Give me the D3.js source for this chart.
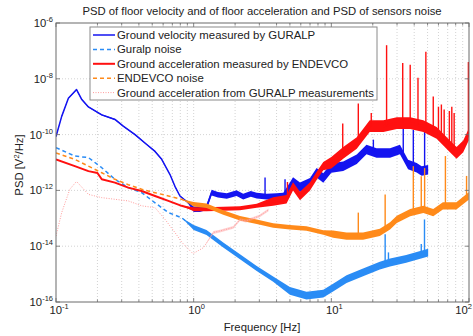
<!DOCTYPE html>
<html><head><meta charset="utf-8">
<script src="https://cdn.jsdelivr.net/npm/d3@7"></script>
<style>
body{margin:0;background:#fff}
svg{display:block}
text{font-family:"Liberation Sans",Arial,Helvetica,sans-serif;fill:#222}
</style>
</head><body>
<svg id="c" width="473" height="336"></svg>
<script>
// ---------- data ----------
const title = "PSD of floor velocity and of floor acceleration and PSD of sensors noise";
const xLabel = "Frequency [Hz]";
const xTickExp = [-1, 0, 1, 2];
const yTickExp = [-16, -14, -12, -10, -8, -6];
const legendLabels = [
  "Ground velocity measured by GURALP",
  "Guralp noise",
  "Ground acceleration measured by ENDEVCO",
  "ENDEVCO noise",
  "Ground acceleration from GURALP measurements"
];

// Ground velocity measured by GURALP
const velF = [0.1,0.11,0.123,0.141,0.154,0.172,0.215,0.268,0.308,0.375,0.456,0.524,0.586,0.673,0.731,0.795,0.914,1.0,1.11,1.24,1.35,1.5,1.74,2.05,2.29,2.6,2.87,3.39,4.0,4.48,5.0,5.27,5.92,7.0,7.82,8.74,10.0,12.2,15.3,18.0,21.3,26.7,31.5,36.1,41.7,45.3,50.5];
const velV = [8.5e-11,4.5e-10,2.0e-9,4.1e-9,1.8e-9,9.8e-10,5.1e-10,3.5e-10,2.0e-10,1.0e-10,4.4e-11,2.5e-11,1.3e-11,3.7e-12,1.4e-12,6.3e-13,3.6e-13,2.1e-13,2.1e-13,2.5e-13,8.3e-13,7e-13,6.3e-13,8e-13,6e-13,7.5e-13,6.5e-13,6e-13,6.3e-13,6.5e-13,1.3e-12,2e-12,1.3e-12,1.9e-12,4.3e-12,2.8e-12,6.3e-12,7.4e-12,1.3e-11,2.9e-11,2.2e-11,2.2e-11,2.9e-11,8.5e-12,6.5e-12,5e-12,5.5e-12];
const velBandF = [0.1, 0.95, 5];
const velBandW = [0.02, 0.1, 0.17];
const velSpF = [3.3, 4.61, 20.2, 33.3, 39.4, 47.6];
const velSpV = [2.9e-12, 2.5e-12, 6.6e-11, 2.6e-10, 1.5e-10, 2.6e-10];

// Guralp noise
const gnF = [0.1,0.137,0.172,0.215,0.268,0.335,0.419,0.524,0.655,0.818,1.0,1.24,1.64,2.17,2.87,3.78,5.0,6.6,8.74,10.3,12.9,17.0,22.5,26.7,35,41.7,50.5];
const gnV = [3.4e-11,1.7e-11,1.5e-11,6.5e-12,2.5e-12,1.26e-12,8.3e-13,3.6e-13,1.6e-13,1.05e-13,4.7e-14,3.1e-14,1.1e-14,4.2e-15,1.6e-15,6.6e-16,2.5e-16,1.7e-16,2.0e-16,3.3e-16,6.6e-16,1.15e-15,2.0e-15,2.6e-15,3.5e-15,4.5e-15,5.9e-15];
const gnBandF = [0.1, 1, 4];
const gnBandW = [0.0, 0.09, 0.14];
const gnSpF = [24.6, 26, 45, 47.5];
const gnSpV = [2.7e-14, 6e-15, 1.2e-14, 9.1e-14];

// Ground acceleration measured by ENDEVCO
const accF = [0.1,0.137,0.172,0.2,0.215,0.268,0.335,0.419,0.524,0.655,0.818,1.0,1.24,1.64,2.17,2.87,3.78,4.73,5.27,5.92,7.0,7.82,8.74,10,12.2,15.3,19.0,23.9,29.9,37.4,46.6,58.2,72.7,81.2,90.8,99.5];
const accV = [1.3e-11,7.4e-12,4.9e-12,4.2e-12,2.5e-12,1.9e-12,1.26e-12,9.5e-13,6.3e-13,4.2e-13,2.8e-13,2.1e-13,2.1e-13,2.2e-13,2.3e-13,2.8e-13,4.0e-13,4.8e-13,1.4e-12,6.3e-13,1.4e-12,3.3e-12,7.4e-12,9.8e-12,2.2e-11,5e-11,2e-10,2e-10,2.6e-10,2.6e-10,2e-10,1.15e-10,3.8e-11,2.2e-11,3.8e-11,1.0e-10];
const accBandF = [0.1, 0.9, 3, 9];
const accBandW = [0.0, 0.07, 0.15, 0.21];
const accSpF = [4.8,12.1,15.7,19.5,25.2,33.0,37.4,42.6,48.6,55,60,63,66,72,75,78,99];
const accSpV = [2e-12,2.5e-10,1.3e-9,5.9e-10,1.6e-7,3.7e-8,3.2e-8,1.1e-8,9.3e-8,2.3e-9,1.0e-9,1.2e-9,8e-10,7e-10,1.0e-9,6e-10,4e-8];

// ENDEVCO noise
const endF = [0.1,0.137,0.172,0.215,0.268,0.335,0.419,0.524,0.655,0.818,1.0,1.24,1.64,2.17,2.87,3.78,5.0,6.6,8.74,10.3,12.9,17.0,22.5,26.7,29.9,37.4,46.6,55,64.6,81,99.5];
const endV = [2.2e-11,1.3e-11,7.4e-12,4.3e-12,2.5e-12,1.6e-12,1.1e-12,8.3e-13,6.3e-13,4.8e-13,3.2e-13,2.8e-13,1.6e-13,1.0e-13,7.5e-14,5.5e-14,4.8e-14,4.3e-14,3.1e-14,2.7e-14,2.3e-14,2.3e-14,3.1e-14,5.4e-14,9.1e-14,1.6e-13,2.1e-13,1.6e-13,2.8e-13,2.8e-13,6.3e-13];
const endBandF = [0.1, 1, 10];
const endBandW = [0.0, 0.08, 0.13];
const endSpF = [15.7, 24.6, 39.4, 45, 47.6, 67.4, 96];
const endSpV = [1.6e-13, 7.2e-13, 7.4e-12, 3.2e-12, 6.3e-12, 1.7e-11, 3.3e-12];

// Ground acceleration from GURALP measurements
const gaF = [0.1,0.11,0.126,0.141,0.172,0.215,0.268,0.335,0.419,0.524,0.62,0.731,0.818,0.97,1.0,1.18,1.39,1.55,1.94,2.17,2.4,3.0,3.5];
const gaV = [2.3e-14,1.6e-13,1.1e-12,2.1e-12,7.2e-13,5.5e-13,4.8e-13,4.2e-13,2.8e-13,2.4e-13,9.1e-14,3.1e-14,1.4e-14,5.9e-15,5.6e-15,8.9e-15,3.1e-14,3.5e-14,4.7e-14,9e-14,8e-14,1.2e-13,2e-13];
const gaBandF = [0.1, 1.3];
const gaBandW = [0.0, 0.05];

// ---------- chart ----------
const svg = d3.select("#c");
const L = 56, R = 469, T = 23, B = 302;
const xs = d3.scaleLog().domain([0.1, 100]).range([L, R]);
const ys = d3.scaleLog().domain([1e-16, 1e-6]).range([B, T]);

svg.append("defs").append("clipPath").attr("id", "clip")
  .append("rect").attr("x", L).attr("y", T).attr("width", R - L).attr("height", B - T);

// grid
const gGrid = svg.append("g");
const xTicks = xs.ticks();
gGrid.selectAll("line.vx").data(xTicks.filter(d => d > 0.1 && d < 100)).enter().append("line")
  .attr("x1", d => xs(d)).attr("x2", d => xs(d)).attr("y1", T).attr("y2", B)
  .attr("stroke", "#c8c8c8").attr("stroke-width", 0.8).attr("stroke-dasharray", "1,2");
gGrid.selectAll("line.hy").data(yTickExp.slice(1, -1)).enter().append("line")
  .attr("x1", L).attr("x2", R).attr("y1", d => ys(Math.pow(10, d))).attr("y2", d => ys(Math.pow(10, d)))
  .attr("stroke", "#c8c8c8").attr("stroke-width", 0.8).attr("stroke-dasharray", "1,2");

function bandAt(f, bf, bw) {
  let w = bw[0];
  for (let i = 0; i < bf.length; i++) if (f >= bf[i]) w = bw[i];
  return w;
}
function interpAt(F, V, f) {
  const lf = Math.log10(f);
  for (let i = 0; i < F.length - 1; i++) {
    const a = Math.log10(F[i]), b = Math.log10(F[i + 1]);
    if (lf >= a && lf <= b) {
      const t = (lf - a) / (b - a);
      return Math.pow(10, Math.log10(V[i]) * (1 - t) + Math.log10(V[i + 1]) * t);
    }
  }
  return V[V.length - 1];
}

const plot = svg.append("g").attr("clip-path", "url(#clip)");
function drawSeries(F, V, bF, bW, color, sw, dash, spF, spV, bandOpacity) {
  const g = plot.append("g");
  const pts = F.map((f, i) => ({f, v: V[i], w: bandAt(f, bF, bW)}));
  g.append("path").datum(pts)
    .attr("d", d3.area().x(d => xs(d.f)).y0(d => ys(d.v / Math.pow(10, d.w))).y1(d => ys(d.v * Math.pow(10, d.w))))
    .attr("fill", color).attr("fill-opacity", bandOpacity).attr("stroke", "none");
  g.append("path").datum(pts)
    .attr("d", d3.line().x(d => xs(d.f)).y(d => ys(d.v)))
    .attr("fill", "none").attr("stroke", color).attr("stroke-width", sw)
    .attr("stroke-dasharray", dash).attr("stroke-linejoin", "round");
  if (spF) {
    g.selectAll("line.sp").data(spF.map((f, i) => ({f, v: spV[i]}))).enter().append("line")
      .attr("x1", d => xs(d.f)).attr("x2", d => xs(d.f))
      .attr("y1", d => ys(interpAt(F, V, d.f))).attr("y2", d => ys(d.v))
      .attr("stroke", color).attr("stroke-width", 1.4);
  }
}
const colors = ["#1414f0", "#2a8cf5", "#ff1010", "#ff8a1a", "#ff9c9c"];
const widths = [1.5, 1.5, 2, 1.5, 1];
const dashes = [null, "4,3", null, "4,3", "1,1.5"];

drawSeries(velF, velV, velBandF, velBandW, colors[0], widths[0], dashes[0], velSpF, velSpV, 1);
drawSeries(gnF, gnV, gnBandF, gnBandW, colors[1], widths[1], dashes[1], gnSpF, gnSpV, 1);
drawSeries(accF, accV, accBandF, accBandW, colors[2], widths[2], dashes[2], accSpF, accSpV, 1);
drawSeries(endF, endV, endBandF, endBandW, colors[3], widths[3], dashes[3], endSpF, endSpV, 1);
drawSeries(gaF, gaV, gaBandF, gaBandW, colors[4], widths[4], dashes[4], null, null, 0.45);

// frame & ticks
const axCol = "#6a6a6a";
svg.append("rect").attr("x", L).attr("y", T).attr("width", R - L).attr("height", B - T)
  .attr("fill", "none").attr("stroke", axCol).attr("stroke-width", 1);
const gT = svg.append("g").attr("stroke", axCol).attr("stroke-width", 0.8);
xTicks.forEach(d => {
  const major = Math.abs(Math.log10(d) - Math.round(Math.log10(d))) < 1e-9;
  const len = major ? 4 : 2.5;
  gT.append("line").attr("x1", xs(d)).attr("x2", xs(d)).attr("y1", B).attr("y2", B - len);
  gT.append("line").attr("x1", xs(d)).attr("x2", xs(d)).attr("y1", T).attr("y2", T + len);
});
yTickExp.forEach(e => {
  const y = ys(Math.pow(10, e));
  gT.append("line").attr("x1", L).attr("x2", L + 4).attr("y1", y).attr("y2", y);
  gT.append("line").attr("x1", R).attr("x2", R - 4).attr("y1", y).attr("y2", y);
});

// tick labels
const fs = 11.3;
xTickExp.forEach((e, i) => {
  const last = i === xTickExp.length - 1;
  const t = svg.append("text").attr("x", last ? 472 : xs(Math.pow(10, e)) + 3).attr("y", 314)
    .attr("text-anchor", last ? "end" : "middle").attr("font-size", fs);
  t.append("tspan").text("10");
  t.append("tspan").attr("dy", -5).attr("font-size", 7.5).text(e);
});
yTickExp.forEach(e => {
  const t = svg.append("text").attr("x", 53).attr("y", ys(Math.pow(10, e)) + 4)
    .attr("text-anchor", "end").attr("font-size", fs);
  t.append("tspan").text("10");
  t.append("tspan").attr("dy", -5).attr("font-size", 7.5).text(e);
});

// axis labels & title
svg.append("text").attr("x", 262).attr("y", 331).attr("text-anchor", "middle").attr("font-size", fs).text(xLabel);
const yl = svg.append("text").attr("transform", "translate(23,165) rotate(-90)")
  .attr("text-anchor", "middle").attr("font-size", fs);
yl.append("tspan").text("PSD [V");
yl.append("tspan").attr("dy", -4).attr("font-size", 7.5).text("2");
yl.append("tspan").attr("dy", 4).text("/Hz]");
svg.append("text").attr("x", 262).attr("y", 15).attr("text-anchor", "middle").attr("font-size", 11.3).text(title);

// legend
const lg = svg.append("g");
lg.append("rect").attr("x", 90).attr("y", 27).attr("width", 287).attr("height", 73)
  .attr("fill", "#fff").attr("stroke", "#8a8a8a").attr("stroke-width", 1);
legendLabels.forEach((lab, i) => {
  const y = 35 + i * 14.4;
  lg.append("line").attr("x1", 93).attr("x2", 115).attr("y1", y).attr("y2", y)
    .attr("stroke", colors[i]).attr("stroke-width", widths[i]).attr("stroke-dasharray", dashes[i]);
  lg.append("text").attr("x", 117).attr("y", y + 4).attr("font-size", 11.4).text(lab);
});
</script>
</body></html>
